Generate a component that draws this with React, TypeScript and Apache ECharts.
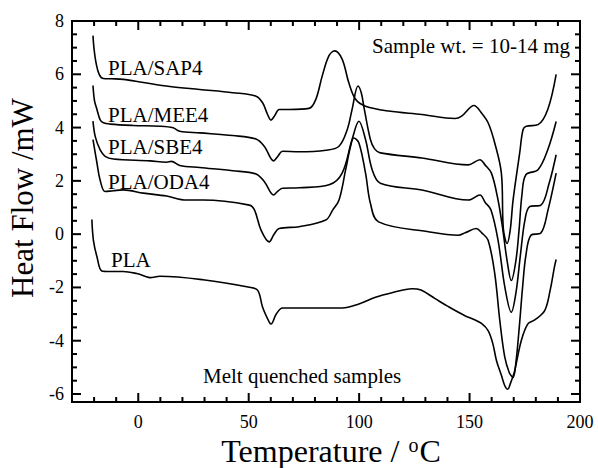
import React, { useEffect, useRef } from "react";
import * as echarts from "echarts";

const FONT = "Liberation Serif";

// Axis ranges and ticks
const X_MIN = -30;
const X_MAX = 200;
const Y_MIN = -6.3;
const Y_MAX = 8;
const xMajor = [0, 50, 100, 150, 200];
const xMinor = [-20, -10, 10, 20, 30, 40, 60, 70, 80, 90, 110, 120, 130, 140, 160, 170, 180, 190];
const yMajor = [-6, -4, -2, 0, 2, 4, 6, 8];
const yMinor = [-5.5, -5, -4.5, -3.5, -3, -2.5, -1.5, -1, -0.5, 0.5, 1, 1.5, 2.5, 3, 3.5, 4.5, 5, 5.5, 6.5, 7, 7.5];

// Series data [temperature °C, heat flow mW]
const sap4 = [
  [-20.5, 7.45], [-20, 6.94], [-19, 6.38], [-17.7, 6.0], [-15.8, 5.84], [-12, 5.83], [-6.8, 5.81], [2.3, 5.69],
  [14.3, 5.54], [27.8, 5.43], [42.8, 5.31], [53.3, 5.18], [56.3, 4.93], [58.5, 4.5], [60.1, 4.28], [61.8, 4.45],
  [63.8, 4.68], [68.3, 4.68], [77.3, 4.72], [80.4, 5.06], [83.3, 5.94], [86.3, 6.69], [88.9, 6.88], [92.3, 6.57],
  [95.3, 5.69], [98.4, 5.06], [102.9, 4.8], [113.4, 4.62], [128.4, 4.49], [143.4, 4.34], [146.4, 4.43], [152, 4.83],
  [155.4, 4.55], [158.4, 4.18], [161.4, 3.42], [164.4, 2.29], [165.3, 0.2], [167, -0.35], [168.4, 0.15], [169.7, 1.28],
  [172.7, 3.05], [174.2, 3.92], [175.7, 4.05], [181, 4.11], [185.4, 4.68], [189.2, 6.0],
];
const mee4 = [
  [-20.5, 5.58], [-19.8, 5.0], [-18.7, 4.68], [-17.3, 4.3], [-15.8, 4.18], [-12.7, 4.13], [-2.3, 4.08], [9.8, 4.05],
  [15.8, 3.99], [18.8, 3.86], [27.8, 3.8], [42.8, 3.7], [53.3, 3.57], [57.1, 3.29], [61.3, 2.75], [63, 2.9],
  [65.3, 3.11], [72.8, 3.09], [85, 3.15], [90.9, 3.3], [94.6, 3.92], [96.8, 4.68], [99.5, 5.56], [101, 5.3],
  [102.1, 4.8], [105.1, 3.55], [107, 3.2], [109.6, 3.05], [128.4, 2.86], [149.4, 2.6], [154.7, 2.79], [157, 2.6],
  [159.9, 2.29], [162.9, 1.28], [165, 0.2], [167, -1.0], [168.9, -1.74], [171, -0.98], [172.4, 0.15], [173.7, 1.47],
  [175.5, 2.23], [181, 2.42], [185.4, 3.17], [189.2, 4.23],
];
const sbe4 = [
  [-20.5, 4.24], [-19.5, 3.67], [-17.3, 3.17], [-15, 2.92], [-11.3, 2.82], [5.3, 2.75], [12.8, 2.7], [15, 2.73],
  [18.8, 2.58], [27.8, 2.5], [42.8, 2.38], [53.3, 2.26], [57.1, 1.97], [61.3, 1.47], [63, 1.6], [65.3, 1.72],
  [72.8, 1.74], [86.4, 1.85], [92.3, 2.29], [96.8, 3.55], [99.9, 4.24], [102.9, 3.55], [105.9, 2.42], [109.6, 1.91],
  [128.4, 1.66], [149.4, 1.28], [154.7, 1.47], [157, 1.2], [159.7, 0.91], [162.9, -0.23], [166, -2.0], [168.9, -2.93],
  [171, -2.2], [173, -0.8], [175, 0.5], [177.2, 1.03], [182.3, 1.09], [186, 1.9], [189.2, 2.98],
];
const oda4 = [
  [-20.5, 3.55], [-18.7, 2.67], [-17.3, 2.04], [-15, 1.6], [-11.3, 1.63], [-6.8, 1.66], [2.3, 1.54], [12.8, 1.43],
  [21.8, 1.28], [29.3, 1.28], [50.3, 1.09], [52.6, 0.91], [55.6, 0.15], [59.3, -0.29], [61.5, 0.0], [63.8, 0.21],
  [72.8, 0.28], [84.9, 0.53], [88, 0.9], [90.9, 1.28], [93.9, 2.42], [96.1, 3.29], [97.6, 3.61], [99.9, 3.42],
  [102.9, 2.29], [105.1, 1.16], [108.8, 0.46], [131.4, 0.09], [144.9, -0.04], [148, 0.05], [153, 0.21], [155.5, 0.05],
  [158.4, -0.23], [161.4, -1.48], [163.7, -3.25], [165.9, -4.6], [168, -5.2], [169.7, -5.38], [171, -4.8], [172.5, -3.5],
  [174, -2], [175.5, -0.8], [177.8, -0.04], [182.3, 0.04], [185.5, 0.9], [189.2, 2.29],
];
const pla = [
  [-21, 0.55], [-20.3, -0.23], [-18.7, -0.85], [-16.5, -1.38], [-12.8, -1.4], [-6.8, -1.4], [-0.7, -1.48], [3, -1.58],
  [5.3, -1.63], [9.8, -1.58], [29.3, -1.71], [50.3, -1.99], [54.1, -2.11], [56.3, -2.74], [59.3, -3.3], [60.1, -3.37],
  [62.5, -3.0], [65.3, -2.77], [77.3, -2.77], [92.3, -2.77], [99.9, -2.62], [107.4, -2.37], [114.9, -2.2], [123.9, -2.05],
  [128, -2.1], [134.4, -2.42], [140, -2.7], [147.9, -3.06], [152, -3.2], [155.4, -3.35], [158.4, -3.62], [160.5, -4.1],
  [162.2, -4.75], [164.4, -5.3], [166, -5.7], [167.3, -5.82], [168.5, -5.6], [170.4, -5.13], [173.4, -4.0], [176.4, -3.37],
  [179.5, -3.22], [184, -2.87], [186.5, -2.1], [188.5, -1.2], [189.2, -0.95],
];

const seriesData = [sap4, mee4, sbe4, oda4, pla];

const annotations = [
  { text: "PLA/SAP4", x: 108, y: 68, size: 21, align: "left" },
  { text: "PLA/MEE4", x: 108, y: 115, size: 21, align: "left" },
  { text: "PLA/SBE4", x: 108, y: 147, size: 21, align: "left" },
  { text: "PLA/ODA4", x: 108, y: 182, size: 21, align: "left" },
  { text: "PLA", x: 111, y: 260, size: 21, align: "left" },
  { text: "Sample wt. = 10-14 mg", x: 570, y: 46, size: 21, align: "right" },
  { text: "Melt quenched samples", x: 203, y: 376, size: 21, align: "left" },
];

const MAJOR_LEN = 9;
const MINOR_LEN = 5;

// one custom series per frame side; each tick is placed through the axis scale via api.coord
function tickSeries(side: "bottom" | "top" | "left" | "right") {
  const isX = side === "bottom" || side === "top";
  const major = isX ? xMajor : yMajor;
  const minor = isX ? xMinor : yMinor;
  const data = [...major.map((v) => [v, 1]), ...minor.map((v) => [v, 0])].map((d) =>
    isX ? [d[0], d[1]] : [d[1], d[0]]
  );
  return {
    type: "custom",
    data,
    clip: false,
    z: 4,
    renderItem: (params: any, api: any) => {
      const v = isX ? api.value(0) : api.value(1);
      const len = (isX ? api.value(1) : api.value(0)) ? MAJOR_LEN : MINOR_LEN;
      let p: number[];
      let dx = 0;
      let dy = 0;
      if (side === "bottom") { p = api.coord([v, Y_MIN]); dy = -len; }
      else if (side === "top") { p = api.coord([v, Y_MAX]); dy = len; }
      else if (side === "left") { p = api.coord([X_MIN, v]); dx = len; }
      else { p = api.coord([X_MAX, v]); dx = -len; }
      return {
        type: "line",
        shape: { x1: p[0], y1: p[1], x2: p[0] + dx, y2: p[1] + dy },
        style: { stroke: "#000", lineWidth: 2 },
      };
    },
  };
}

export default function App() {
  const ref = useRef<HTMLDivElement>(null);
  useEffect(() => {
    if (!ref.current) return;
    const chart = echarts.init(ref.current, null, { renderer: "svg" });
    const option: any = {
      animation: false,
      grid: {
        left: 72, right: 18, top: 21, bottom: 66,
        show: true, borderColor: "#000", borderWidth: 2, outerBoundsMode: "none",
      },
      xAxis: {
        type: "value", min: X_MIN, max: X_MAX,
        axisLine: { show: false, onZero: false },
        axisTick: { show: false },
        splitLine: { show: false },
        axisLabel: { show: true, customValues: xMajor, color: "#000", fontSize: 18, fontFamily: FONT, margin: 11 },
      },
      yAxis: {
        type: "value", min: Y_MIN, max: Y_MAX,
        axisLine: { show: false, onZero: false },
        axisTick: { show: false },
        splitLine: { show: false },
        axisLabel: { show: true, customValues: yMajor, color: "#000", fontSize: 18, fontFamily: FONT, margin: 8 },
      },
      series: [
        tickSeries("bottom"),
        tickSeries("top"),
        tickSeries("left"),
        tickSeries("right"),
        ...seriesData.map((d) => ({
          type: "line",
          data: d,
          showSymbol: false,
          smooth: 0.35,
          lineStyle: { color: "#000", width: 1.6 },
          z: 3,
        })),
      ],
      graphic: [
        ...annotations.map((a) => ({
          type: "text",
          x: a.x,
          y: a.y,
          z: 10,
          style: {
            text: a.text,
            fill: "#000",
            font: `${a.size}px "${FONT}"`,
            textAlign: a.align,
            textVerticalAlign: "middle",
          },
        })),
        {
          type: "text",
          x: 22,
          y: 198,
          rotation: Math.PI / 2,
          z: 10,
          style: {
            text: "Heat Flow /mW",
            fill: "#000",
            font: `31px "${FONT}"`,
            textAlign: "center",
            textVerticalAlign: "middle",
          },
        },
        {
          type: "text",
          x: 331,
          y: 451,
          z: 10,
          style: {
            text: "Temperature / {sup|o}C",
            fill: "#000",
            font: `32px "${FONT}"`,
            textAlign: "center",
            textVerticalAlign: "middle",
            rich: {
              sup: { font: `20px "${FONT}"`, fill: "#000", verticalAlign: "top", padding: [0, 1, 0, 1] },
            },
          },
        },
      ],
    };
    chart.setOption(option);
    return () => chart.dispose();
  }, []);
  return <div ref={ref} style={{ width: 598, height: 468, position: "absolute", left: 0, top: 0 }} />;
}
